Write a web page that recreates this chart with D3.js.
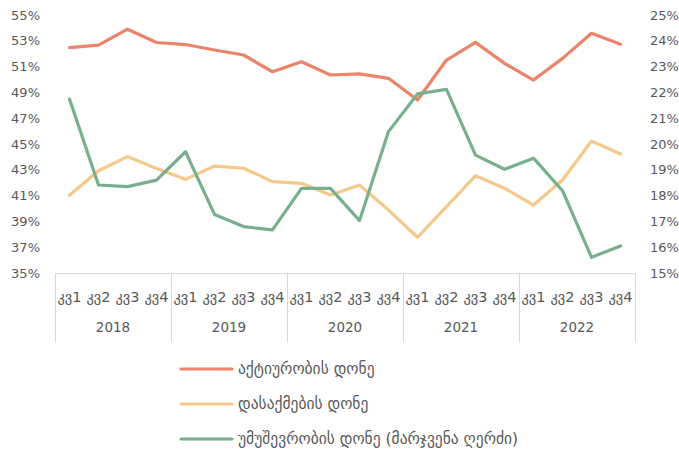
<!DOCTYPE html>
<html><head><meta charset="utf-8">
<script src="https://cdn.jsdelivr.net/npm/d3@7"></script>
<style>
body{margin:0;background:#fff;}
text{font-family:"DejaVu Sans","Liberation Sans",sans-serif;fill:#595959;}
</style></head>
<body><svg id="c" width="679" height="454"></svg>
<script>
const years = ["2018","2019","2020","2021","2022"];
const quarters = ["კვ1","კვ2","კვ3","კვ4"];
const activity = [52.47,52.67,53.9,52.87, 52.71,52.29,51.9,50.6, 51.38,50.35,50.43,50.09, 48.41,51.51,52.88,51.25, 49.96,51.64,53.58,52.73];
const employment = [41.02,42.93,44.02,43.1, 42.26,43.29,43.12,42.08, 41.95,41.05,41.82,39.88, 37.77,40.14,42.54,41.57, 40.27,42.21,45.23,44.22];
const unemployment = [21.74,18.41,18.35,18.6, 19.7,17.27,16.8,16.67, 18.28,18.28,17.03,20.48, 21.94,22.12,19.57,19.02, 19.45,18.19,15.61,16.05];
const leftTicks = [35,37,39,41,43,45,47,49,51,53,55];
const rightTicks = [15,16,17,18,19,20,21,22,23,24,25];
const seriesNames = ["აქტიურობის დონე","დასაქმების დონე","უმუშევრობის დონე (მარჯვენა ღერძი)"];
const colors = ["#EB846A","#F5C98B","#79AF8F"];

const cats = [];
years.forEach(y=>quarters.forEach(q=>cats.push(y+"|"+q)));

const svg = d3.select("#c");
const L=55,R=635,T=15,B=273;
const x = d3.scaleBand().domain(cats).range([L,R]);
const xy = d3.scaleBand().domain(years).range([L,R]);
const yL = d3.scaleLinear().domain([35,55]).range([B,T]);
const yR = d3.scaleLinear().domain([15,25]).range([B,T]);

svg.append("g").selectAll("text").data(leftTicks).join("text")
  .attr("x",40).attr("y",d=>yL(d)).attr("dy","0.35em").attr("text-anchor","end")
  .style("font-size","13px").text(d=>d+"%");
svg.append("g").selectAll("text").data(rightTicks).join("text")
  .attr("x",650).attr("y",d=>yR(d)).attr("dy","0.35em").attr("text-anchor","start")
  .style("font-size","13px").text(d=>d+"%");

svg.append("line").attr("x1",L).attr("x2",R).attr("y1",B+0.5).attr("y2",B+0.5).attr("stroke","#d9d9d9");
const seps = years.map(y=>xy(y)).concat([R]);
svg.append("g").selectAll("line").data(seps).join("line")
  .attr("x1",d=>Math.round(d)+0.5).attr("x2",d=>Math.round(d)+0.5).attr("y1",B).attr("y2",342)
  .attr("stroke","#d9d9d9");
svg.append("g").selectAll("text").data(cats).join("text")
  .attr("x",d=>x(d)+x.bandwidth()/2).attr("y",302).attr("text-anchor","middle")
  .style("font-size","14.5px").text(d=>d.split("|")[1]);
svg.append("g").selectAll("text").data(years).join("text")
  .attr("x",d=>xy(d)+xy.bandwidth()/2).attr("y",332).attr("text-anchor","middle")
  .style("font-size","13.5px").text(d=>d);

const cx = i=>x(cats[i])+x.bandwidth()/2;
const lineL = d3.line().x((d,i)=>cx(i)).y(d=>yL(d));
const lineR = d3.line().x((d,i)=>cx(i)).y(d=>yR(d));
[[employment,lineL,1],[activity,lineL,0],[unemployment,lineR,2]].forEach(([data,ln,ci])=>{
  svg.append("path").attr("d",ln(data)).attr("fill","none").attr("stroke",colors[ci])
    .attr("stroke-width",3.2).attr("stroke-linejoin","round").attr("stroke-linecap","round");
});

const ly=[369,404,439];
seriesNames.forEach((n,i)=>{
  svg.append("line").attr("x1",181).attr("x2",232).attr("y1",ly[i]).attr("y2",ly[i])
    .attr("stroke",colors[i]).attr("stroke-width",3.2).attr("stroke-linecap","round");
  svg.append("text").attr("x",238).attr("y",ly[i]).attr("dy","0.35em")
    .style("font-size","15.5px").text(n);
});
</script></body></html>
